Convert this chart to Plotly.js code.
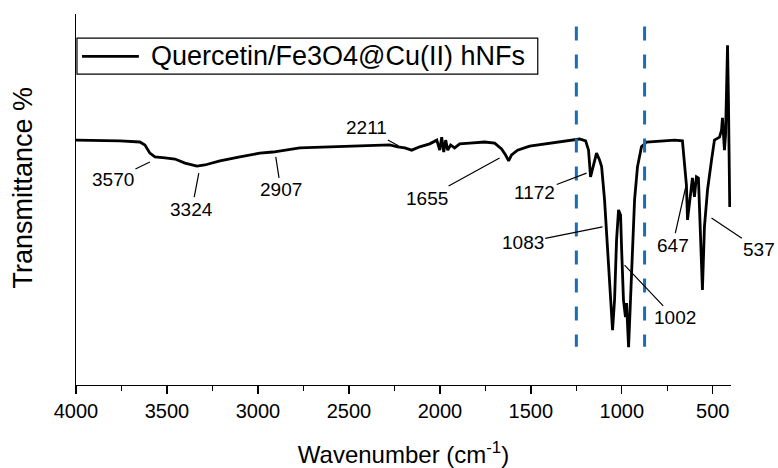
<!DOCTYPE html>
<html>
<head>
<meta charset="utf-8">
<script src="https://cdn.plot.ly/plotly-3.0.1.min.js"></script>
<style>html,body{margin:0;padding:0;background:#fff;}#chart{width:778px;height:468px;}</style>
</head>
<body>
<div id="chart"></div>
<script>
// Spectrum (wavenumber in cm-1, transmittance in arbitrary %)
var wavenumber = [4000,3868,3758,3649,3621,3594,3566,3511,3456,3401,3335,3292,3209,3099,2990,2918,2852,2770,2605,2440,2276,2232,2193,2155,2111,2056,2017,2001,1990,1979,1968,1957,1941,1919,1891,1836,1754,1699,1661,1639,1622,1606,1573,1507,1397,1287,1232,1199,1183,1172,1156,1139,1122,1111,1095,1078,1067,1056,1051,1040,1029,1018,1007,1001,991,980,974,963,952,941,930,914,892,864,793,710,667,656,645,639,628,617,612,601,590,579,568,557,546,529,507,491,463,452,447,441,436,430,425,419,414,411,407];
var transmittance = [66.0,66.0,65.8,65.5,64.7,62.5,61.5,61.2,60.9,59.8,59.0,59.3,60.4,61.5,62.5,62.8,63.3,63.9,64.2,64.4,64.7,64.2,63.9,63.3,64.2,65.0,66.0,63.3,66.8,62.8,66.0,63.3,64.7,63.9,65.0,65.2,65.5,65.2,63.6,62.0,60.4,62.0,63.3,64.4,65.2,65.8,66.3,65.8,63.3,56.1,59.3,62.5,60.6,58.8,49.9,36.4,27.5,18.3,14.8,22.9,39.1,47.2,45.8,36.4,22.9,18.3,22.1,10.2,22.9,39.1,49.9,58.8,64.2,65.5,65.8,66.0,65.8,60.6,53.9,44.5,48.5,53.9,55.8,50.7,56.1,55.8,41.0,25.6,42.6,52.6,60.6,66.0,66.8,68.7,72.0,67.4,63.3,67.4,76.8,91.6,76.8,65.2,48.0];
var seriesName = 'Quercetin/Fe3O4@Cu(II) hNFs';

// Band labels
var peakLabels = ['3570','3324','2907','2211','1655','1172','1083','1002','647','537'];
var peakX      = [3594,3325,2902,2226,1672,1194,1106,985,650,507];
var peakY      = [60.1,57.1,61.5,64.4,61.2,57.1,42.6,32.3,53.1,45.0];
var labelX     = [3797,3363,2874,2402,2072,1479,1545,710,721,244];
var labelY     = [55.3,47.4,52.6,69.3,50.4,51.8,38.3,18.1,37.7,36.4];

// Region markers (dashed lines)
var markerX = [1250, 875];
var markerYBottom = 10.3, markerYTop = 96.6;

var xTicks = [4000,3500,3000,2500,2000,1500,1000,500];

var FONT = 'Liberation Sans, Arial, sans-serif';

var annotations = peakLabels.map(function(t, i){
  return {
    text: t, x: peakX[i], y: peakY[i], xref: 'x', yref: 'y',
    ax: labelX[i], ay: labelY[i], axref: 'x', ayref: 'y',
    showarrow: true, arrowhead: 0, arrowwidth: 1.2, arrowcolor: '#000',
    font: {family: FONT, size: 19, color: '#000'}
  };
});
// y-axis title
annotations.push({
  text: 'Transmittance %', xref: 'paper', yref: 'paper', x: -0.081, y: 0.532,
  xanchor: 'center', yanchor: 'middle', textangle: -90, showarrow: false,
  font: {family: FONT, size: 27, color: '#000'}
});
// legend text
annotations.push({
  text: seriesName, xref: 'paper', yref: 'paper', x: 0.111, y: 0.886,
  xanchor: 'left', yanchor: 'middle', showarrow: false,
  font: {family: FONT, size: 27, color: '#000'}
});

var shapes = markerX.map(function(x){
  return {type: 'line', xref: 'x', yref: 'y', x0: x, x1: x, y0: markerYTop, y1: markerYBottom,
    line: {color: '#1a6fb4', width: 3, dash: '14px,14px'}};
});
// legend box and sample line
shapes.push({type: 'rect', xref: 'paper', yref: 'paper', x0: 0.0015, x1: 0.705, y0: 0.838, y1: 0.935,
  fillcolor: 'rgba(255,255,255,0)', line: {color: '#000', width: 1.2}});
shapes.push({type: 'line', xref: 'paper', yref: 'paper', x0: 0.0092, x1: 0.096, y0: 0.886, y1: 0.886,
  line: {color: '#000', width: 2.8}});

var trace = {
  x: wavenumber, y: transmittance, type: 'scatter', mode: 'lines',
  name: seriesName,
  line: {color: '#000', width: 2.8}
};

var layout = {
  width: 778, height: 468,
  margin: {l: 76, r: 47, t: 14, b: 83},
  paper_bgcolor: '#fff', plot_bgcolor: '#fff',
  font: {family: FONT, color: '#000'},
  showlegend: false,
  xaxis: {
    range: [4000, 400], autorange: false,
    tickvals: xTicks, ticktext: xTicks.map(String),
    ticks: 'outside', ticklen: 8, tickwidth: 1.3, tickcolor: '#000',
    minor: {dtick: 250, ticks: 'outside', ticklen: 5, tickwidth: 1.3, tickcolor: '#000'},
    showline: true, linecolor: '#000', linewidth: 1.3,
    showgrid: false, zeroline: false,
    tickfont: {family: FONT, size: 20, color: '#000'},
    title: {text: 'Wavenumber (cm<sup>-1</sup>)', font: {family: FONT, size: 24, color: '#000'}, standoff: 26}
  },
  yaxis: {
    range: [0, 100], autorange: false,
    showticklabels: false, ticks: '',
    showline: true, linecolor: '#000', linewidth: 1.3,
    showgrid: false, zeroline: false
  },
  annotations: annotations,
  shapes: shapes
};

Plotly.newPlot('chart', [trace], layout, {displayModeBar: false, staticPlot: true});
</script>
</body>
</html>
